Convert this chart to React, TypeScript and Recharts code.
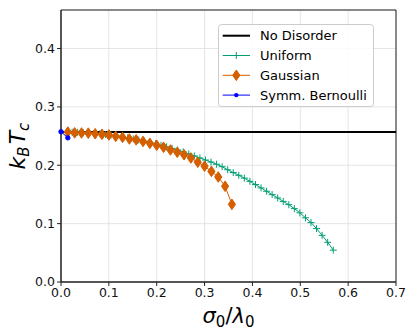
import React from 'react';
import { LineChart, Line, XAxis, YAxis, CartesianGrid, ReferenceArea } from 'recharts';

const xTicks = [0, 0.1, 0.2, 0.3, 0.4, 0.5, 0.6, 0.7];
const yTicks = [0, 0.1, 0.2, 0.3, 0.4];

const noDisorderSigma = [0, 0.7];
const noDisorderT = [0.257, 0.257];

const uniformSigma = [
  0.0116, 0.0232, 0.0348, 0.0464, 0.0581, 0.0697, 0.0813, 0.0929, 0.1045, 0.1161,
  0.1277, 0.1393, 0.1509, 0.1625, 0.1742, 0.1858, 0.1974, 0.2090, 0.2206, 0.2322,
  0.2438, 0.2554, 0.2670, 0.2786, 0.2903, 0.3019, 0.3135, 0.3251, 0.3367, 0.3483,
  0.3599, 0.3715, 0.3831, 0.3947, 0.4064, 0.4180, 0.4296, 0.4412, 0.4528, 0.4644,
  0.4760, 0.4876, 0.4992, 0.5108, 0.5224, 0.5340, 0.5456, 0.5572, 0.5689,
];
const uniformT = [
  0.2569, 0.2567, 0.2564, 0.2560, 0.2555, 0.2549, 0.2540, 0.2528, 0.2516, 0.2502,
  0.2487, 0.2470, 0.2452, 0.2433, 0.2412, 0.2390, 0.2367, 0.2342, 0.2316, 0.2290,
  0.2262, 0.2229, 0.2195, 0.2160, 0.2125, 0.2090, 0.2055, 0.2018, 0.1975, 0.1923,
  0.1875, 0.1828, 0.1780, 0.1725, 0.1670, 0.1612, 0.1555, 0.1497, 0.1440, 0.1381,
  0.1325, 0.1257, 0.1185, 0.1100, 0.1018, 0.0915, 0.0800, 0.0680, 0.0546,
];

const gaussianSigma = [
  0.0143, 0.0286, 0.0429, 0.0571, 0.0714, 0.0857, 0.1000, 0.1143, 0.1286, 0.1429,
  0.1571, 0.1714, 0.1857, 0.2000, 0.2143, 0.2286, 0.2429, 0.2571, 0.2714, 0.2857,
  0.3000, 0.3143, 0.3286, 0.3429, 0.3571,
];
const gaussianT = [
  0.2570, 0.2555, 0.2553, 0.2550, 0.2540, 0.2530, 0.2520, 0.2495, 0.2478, 0.2450,
  0.2435, 0.2408, 0.2375, 0.2342, 0.2308, 0.2262, 0.2222, 0.2180, 0.2125, 0.2052,
  0.1985, 0.1895, 0.1800, 0.1640, 0.1330,
];

const bernoulliSigma = [0, 0.0143];
const bernoulliT = [0.2575, 0.2470];

const legendLabels = ['No Disorder', 'Uniform', 'Gaussian', 'Symm. Bernoulli'];

const GREEN = '#009E73';
const ORANGE = '#D55E00';
const BLUE = '#0000FF';
const FONT = '"DejaVu Sans", Verdana, sans-serif';

const toPoints = (xs: number[], ys: number[]) => xs.map((x, i) => ({ x, y: ys[i] }));

const noDisorderData = toPoints(noDisorderSigma, noDisorderT);
const uniformData = toPoints(uniformSigma, uniformT);
const gaussianData = toPoints(gaussianSigma, gaussianT);
const bernoulliData = toPoints(bernoulliSigma, bernoulliT);

const PlusDot = (props: any) => {
  const { cx, cy, index } = props;
  if (cx == null || cy == null) return <g key={`p${index}`} />;
  return (
    <path
      key={`p${index}`}
      d={`M${cx - 3.5},${cy}H${cx + 3.5}M${cx},${cy - 3.5}V${cy + 3.5}`}
      stroke={GREEN}
      strokeWidth={1}
      fill="none"
    />
  );
};

const DiamondDot = (props: any) => {
  const { cx, cy, index } = props;
  if (cx == null || cy == null) return <g key={`d${index}`} />;
  return (
    <path
      key={`d${index}`}
      d={`M${cx},${cy - 5.3}L${cx + 3.6},${cy}L${cx},${cy + 5.3}L${cx - 3.6},${cy}Z`}
      fill={ORANGE}
      stroke={ORANGE}
      strokeWidth={1}
    />
  );
};

const SmallDot = (props: any) => {
  const { cx, cy, index } = props;
  if (cx == null || cy == null) return <g key={`b${index}`} />;
  return <circle key={`b${index}`} cx={cx} cy={cy} r={2.2} fill={BLUE} stroke={BLUE} />;
};

const LegendBox = () => {
  const rows = [
    { color: '#000', width: 2, marker: 'none' },
    { color: GREEN, width: 1, marker: 'plus' },
    { color: ORANGE, width: 1, marker: 'diamond' },
    { color: BLUE, width: 1, marker: 'dot' },
  ];
  return (
    <svg width={156} height={83} style={{ display: 'block' }}>
      <rect x={0.5} y={0.5} width={155} height={82} rx={3} fill="rgba(255,255,255,0.85)" stroke="#cccccc" />
      {rows.map((r, i) => {
        const cy = 11.7 + i * 19.8;
        const mx = 18.3;
        return (
          <g key={legendLabels[i]}>
            <line x1={4.7} x2={32} y1={cy} y2={cy} stroke={r.color} strokeWidth={r.width} />
            {r.marker === 'plus' && (
              <path d={`M${mx - 3.5},${cy}H${mx + 3.5}M${mx},${cy - 3.5}V${cy + 3.5}`} stroke={r.color} />
            )}
            {r.marker === 'diamond' && (
              <path
                d={`M${mx},${cy - 5.3}L${mx + 3.6},${cy}L${mx},${cy + 5.3}L${mx - 3.6},${cy}Z`}
                fill={r.color}
                stroke={r.color}
              />
            )}
            {r.marker === 'dot' && <circle cx={mx} cy={cy} r={2.2} fill={r.color} />}
            <text x={42} y={cy + 4.6} fontSize={13} fontFamily={FONT} fill="#000">
              {legendLabels[i]}
            </text>
          </g>
        );
      })}
    </svg>
  );
};

const YLabel = () => (
  <text
    transform="translate(25,146) rotate(-90)"
    textAnchor="middle"
    fontFamily={FONT}
    fontSize={22}
    fill="#000"
  >
    <tspan fontStyle="italic">k</tspan>
    <tspan fontStyle="italic" fontSize={15} dy={4}>B</tspan>
    <tspan fontStyle="italic" dy={-4} dx={2}>T</tspan>
    <tspan fontStyle="italic" fontSize={15} dy={4}>c</tspan>
  </text>
);

const XLabel = () => (
  <text x={228.5} y={323} textAnchor="middle" fontFamily={FONT} fontSize={21} fill="#000">
    <tspan fontStyle="italic">σ</tspan>
    <tspan fontSize={15} dy={4}>0</tspan>
    <tspan dy={-4}>/</tspan>
    <tspan fontStyle="italic">λ</tspan>
    <tspan fontSize={15} dy={4}>0</tspan>
  </text>
);

export default function App() {
  return (
    <div style={{ position: 'absolute', left: 0, top: 0, width: 413, height: 335, background: '#fff' }}>
      <LineChart
        width={413}
        height={335}
        margin={{ top: 10, right: 17, left: 0, bottom: 0 }}
        style={{ fontFamily: FONT }}
      >
        <CartesianGrid stroke="#dddddd" strokeWidth={0.8} />
        <XAxis
          dataKey="x"
          type="number"
          domain={[0, 0.7]}
          ticks={xTicks}
          tickFormatter={(v: number) => v.toFixed(1)}
          allowDuplicatedCategory={false}
          height={53}
          axisLine={{ stroke: '#222', strokeWidth: 1 }}
          tickLine={{ stroke: '#222' }}
          tickSize={4}
          tick={{ fill: '#111', fontSize: 12.5, fontFamily: FONT }}
          interval={0}
          label={{ content: () => <XLabel /> }}
        />
        <YAxis
          dataKey="y"
          type="number"
          domain={[0, 0.466]}
          ticks={yTicks}
          tickFormatter={(v: number) => v.toFixed(1)}
          width={61}
          axisLine={{ stroke: '#222', strokeWidth: 1 }}
          tickLine={{ stroke: '#222' }}
          tickSize={4}
          tick={{ fill: '#111', fontSize: 12.5, fontFamily: FONT }}
          interval={0}
          allowDataOverflow
          label={{ content: () => <YLabel /> }}
        />
        <ReferenceArea x1={0} x2={0.7} y1={0} y2={0.466} fill="none" stroke="#222" strokeWidth={1} />
        <Line
          data={noDisorderData}
          dataKey="y"
          name={legendLabels[0]}
          stroke="#000"
          strokeWidth={2}
          dot={false}
          activeDot={false}
          isAnimationActive={false}
        />
        <Line
          data={uniformData}
          dataKey="y"
          name={legendLabels[1]}
          stroke={GREEN}
          strokeWidth={1}
          dot={PlusDot}
          activeDot={false}
          isAnimationActive={false}
        />
        <Line
          data={gaussianData}
          dataKey="y"
          name={legendLabels[2]}
          stroke={ORANGE}
          strokeWidth={1}
          dot={DiamondDot}
          activeDot={false}
          isAnimationActive={false}
        />
        <Line
          data={bernoulliData}
          dataKey="y"
          name={legendLabels[3]}
          stroke={BLUE}
          strokeWidth={1}
          dot={SmallDot}
          activeDot={false}
          isAnimationActive={false}
        />
      </LineChart>
      <div style={{ position: 'absolute', left: 218, top: 24 }}>
        <LegendBox />
      </div>
    </div>
  );
}
